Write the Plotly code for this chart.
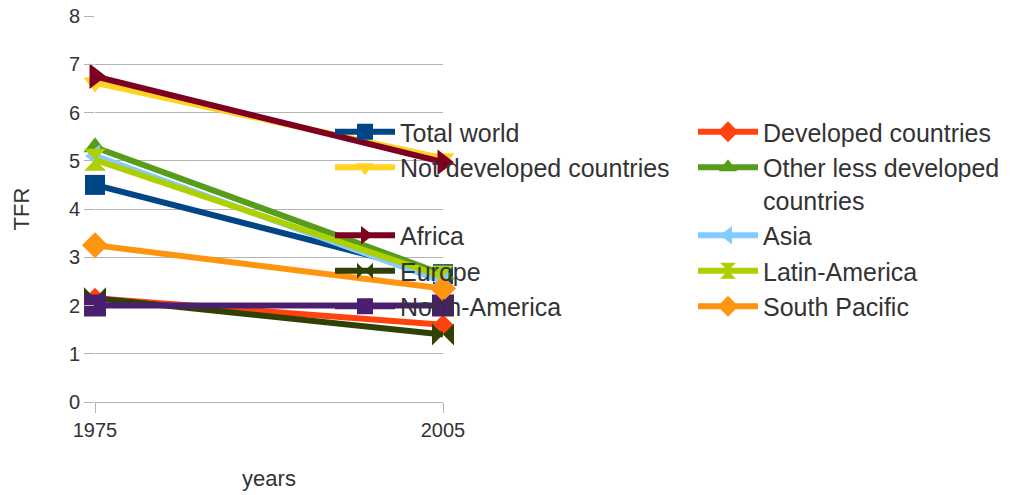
import plotly.graph_objects as go

years = ["1975", "2005"]
series_names = [
    "Total world", "Developed countries", "Not developed countries<br>\u00a0",
    "Other less developed<br>countries", "Africa", "Asia", "Europe",
    "Latin-America", "North-America", "South Pacific",
]
total_world = [4.5, 2.65]
developed = [2.15, 1.6]
not_developed = [6.62, 5.05]
other_less_developed = [5.28, 2.65]
africa = [6.75, 4.97]
asia = [5.1, 2.5]
europe = [2.15, 1.4]
latin_america = [5.02, 2.6]
north_america = [2.0, 2.0]
south_pacific = [3.25, 2.35]

series_values = [total_world, developed, not_developed, other_less_developed,
                 africa, asia, europe, latin_america, north_america, south_pacific]
colors = ["#004586", "#ff420e", "#ffd320", "#579d1c", "#7e0021",
          "#83caff", "#314004", "#aecf00", "#4b1f6f", "#ff950e"]
symbols = ["square", "diamond", "triangle-down", "triangle-up", "triangle-right",
           "triangle-left", "bowtie", "hourglass", "square", "diamond"]
sizes = [20, 16, 20, 20, 22, 20, 22, 22, 22, 20]
legend_column = ["legend", "legend2", "legend", "legend2", "legend",
                 "legend2", "legend", "legend2", "legend", "legend2"]
y_ticks = list(range(0, 9))

fig = go.Figure()
for name, vals, c, s, sz, lg in zip(series_names, series_values, colors, symbols,
                                    sizes, legend_column):
    fig.add_trace(go.Scatter(
        x=years, y=vals, name=name, mode="lines+markers",
        line=dict(color=c, width=6),
        marker=dict(symbol=s, size=sz, color=c, line=dict(width=0)),
        cliponaxis=False, legend=lg,
    ))

legend_common = dict(
    orientation="v", yanchor="top", xanchor="left", valign="top",
    bgcolor="rgba(0,0,0,0)", font=dict(size=25, color="#333333"),
    itemwidth=60, traceorder="normal", tracegroupgap=0,
)

fig.update_layout(
    width=1010, height=495,
    margin=dict(l=95, r=10, t=16, b=93, autoexpand=False),
    paper_bgcolor="white", plot_bgcolor="white",
    font=dict(family="Liberation Sans, Arial, sans-serif", color="#333333", size=20),
    showlegend=True,
    legend=dict(x=(330 - 95) / 905, y=(402 - 109) / 386, **legend_common),
    legend2=dict(x=(693 - 95) / 905, y=(402 - 109) / 386, **legend_common),
    xaxis=dict(
        type="category", range=[0, 1], domain=[0, 348 / 905], automargin=False,
        showgrid=True, gridcolor="#b3b3b3", gridwidth=1,
        ticks="outside", ticklen=10, tickcolor="#b3b3b3",
        tickfont=dict(size=20, color="#333333"),
        title=dict(text="years", font=dict(size=22, color="#333333"), standoff=30),
        showline=False, zeroline=False,
    ),
    yaxis=dict(
        range=[0, 8], tickvals=y_ticks, ticktext=[str(v) for v in y_ticks],
        automargin=False,
        showgrid=True, gridcolor="#b3b3b3", gridwidth=1,
        ticks="outside", ticklen=10, tickcolor="#b3b3b3",
        tickfont=dict(size=20, color="#333333"),
        title=dict(text="TFR", font=dict(size=22, color="#333333"), standoff=33),
        showline=False, zeroline=True, zerolinecolor="#b3b3b3", zerolinewidth=1,
    ),
)

fig.write_html("out.html")
